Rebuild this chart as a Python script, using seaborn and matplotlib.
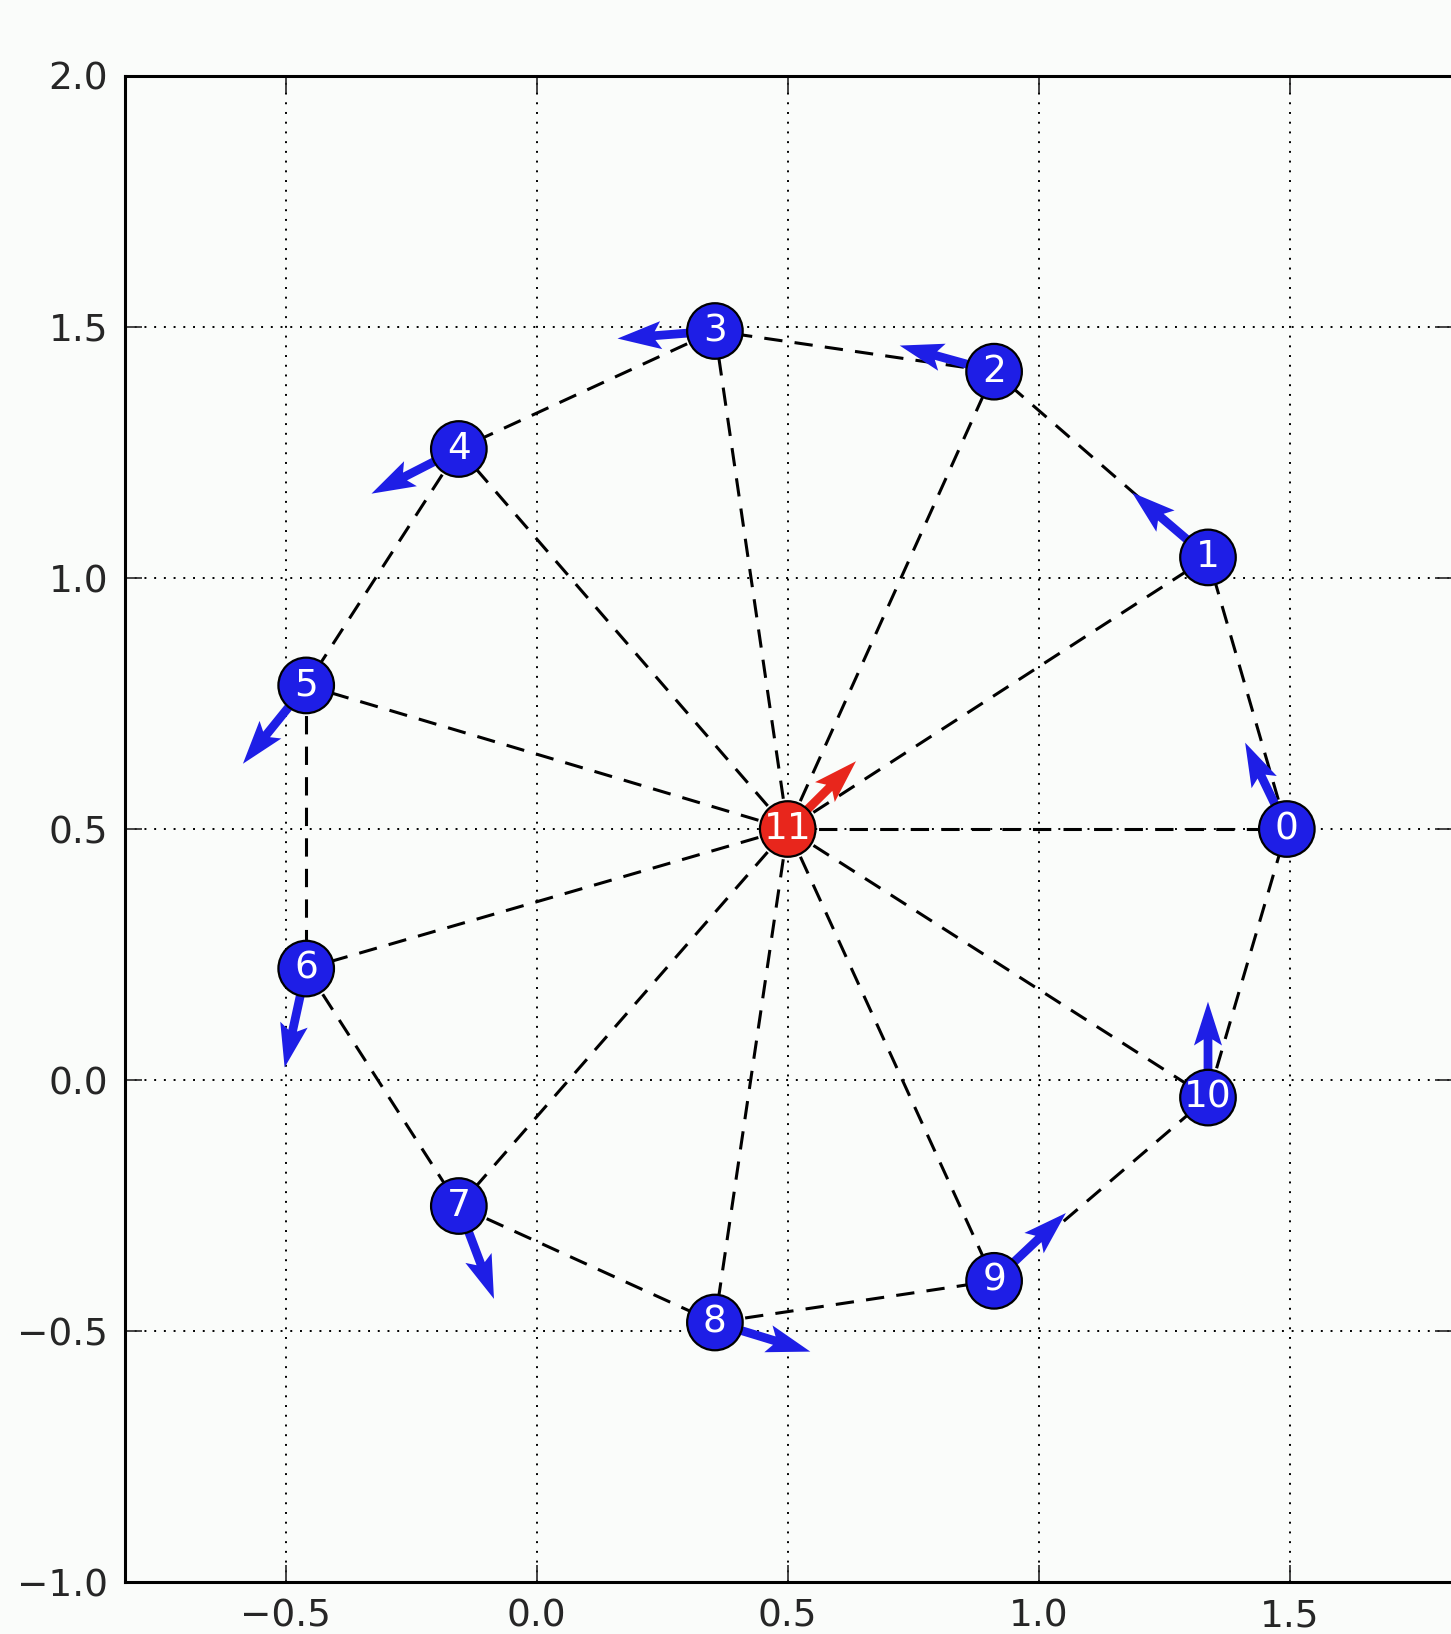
import numpy as np
import pandas as pd
import matplotlib
matplotlib.use("Agg")
import matplotlib.pyplot as plt
import seaborn as sns

# node positions
node_ids = list(range(12))
node_x = [1.494, 1.337, 0.911, 0.355, -0.155, -0.459, -0.459, -0.155, 0.355, 0.911, 1.337, 0.500]
node_y = [0.500, 1.041, 1.411, 1.492, 1.257, 0.786, 0.222, -0.251, -0.483, -0.400, -0.035, 0.500]
node_kind = ["follower"] * 11 + ["leader"]

# velocity arrows
vel_u = [-0.083, -0.151, -0.188, -0.194, -0.174, -0.126, -0.043, 0.070, 0.190, 0.143, 0.000, 0.136]
vel_v = [0.172, 0.129, 0.052, -0.015, -0.089, -0.156, -0.197, -0.185, -0.058, 0.135, 0.191, 0.135]

# edges: ring 0..10 and spokes to 11
ring = [(i, (i + 1) % 11) for i in range(11)]
spokes = [(11, i) for i in range(11)]
edges = ring + spokes

xticks = [-0.5, 0.0, 0.5, 1.0, 1.5]
yticks = [-1.0, -0.5, 0.0, 0.5, 1.0, 1.5, 2.0]

BLUE = "#1e1ee6"
RED = "#e8261c"
BG = "#fafcfa"

sns.set_style("ticks", {
    "axes.grid": True,
    "grid.color": "k",
    "grid.linestyle": ":",
    "axes.edgecolor": "k",
    "axes.facecolor": BG,
    "figure.facecolor": BG,
    "xtick.direction": "in",
    "ytick.direction": "in",
})
plt.rcParams["font.family"] = ["DejaVu Sans"]

fig = plt.figure(figsize=(14.51, 16.34), dpi=100)
# right spine sits just past the image edge, as in the cropped original
ax = fig.add_axes([0.0861, 0.0318, 0.9146, 0.9217])

rows = []
for k, (a, b) in enumerate(edges):
    rows.append({"edge": k, "x": node_x[a], "y": node_y[a]})
    rows.append({"edge": k, "x": node_x[b], "y": node_y[b]})
edge_df = pd.DataFrame(rows)
sns.lineplot(data=edge_df, x="x", y="y", units="edge", estimator=None, sort=False,
             color="k", linewidth=2.2, dashes=False, ax=ax, zorder=2, legend=False)
for ln in ax.lines:
    ln.set_dashes((6, 4))

colors = [RED if k == "leader" else BLUE for k in node_kind]
ax.quiver(node_x, node_y, vel_u, vel_v, color=colors, angles="xy", scale_units="xy",
          scale=1, width=0.0066, headwidth=3.2, headlength=5, headaxislength=4.3, zorder=3)

nodes = pd.DataFrame({"x": node_x, "y": node_y, "kind": node_kind})
sns.scatterplot(data=nodes, x="x", y="y", hue="kind", palette={"follower": BLUE, "leader": RED},
                s=1600, edgecolor="k", linewidth=1.6, ax=ax, zorder=4, legend=False)

for i, x, y in zip(node_ids, node_x, node_y):
    ax.text(x, y, str(i), color="white", fontsize=27, ha="center", va="center", zorder=5)

ax.set_xlim(-0.82, 1.823)
ax.set_ylim(-1.0, 2.0)
ax.set_xticks(xticks)
ax.set_yticks(yticks)
ax.set_xticklabels([f"{t:.1f}".replace("-", "\u2212") for t in xticks])
ax.set_yticklabels([f"{t:.1f}".replace("-", "\u2212") for t in yticks])
ax.set_xlabel("")
ax.set_ylabel("")
ax.tick_params(axis="both", which="major", labelsize=27, length=12, width=1.2, pad=12,
               top=True, right=True)
ax.grid(True, color="k", linestyle=(0, (1, 4)), linewidth=1.4)
for sp in ax.spines.values():
    sp.set_linewidth(2.2)

fig.savefig("out.png", dpi=100, facecolor=BG)
